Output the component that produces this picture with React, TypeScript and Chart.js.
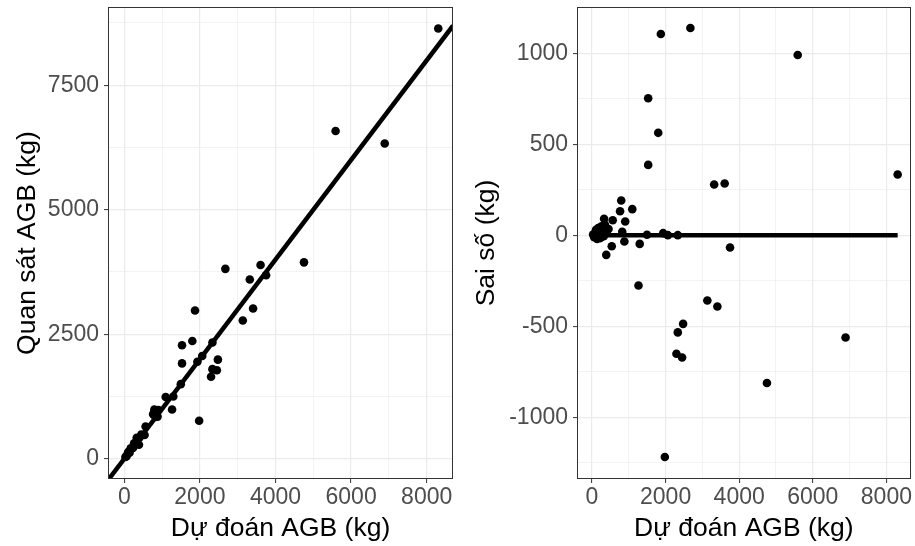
import React, { useEffect, useRef } from "react";
import { Chart, registerables } from "chart.js";

Chart.register(...registerables);

// ---- Data ----
const predicted = [
  1871, 2674, 5590, 1527, 1800, 1527, 8306, 3320, 3605, 795, 1095, 763, 903, 329, 564,
  822, 1495, 1934, 2061, 2332, 880, 1297, 3751, 537, 388, 1264, 3135, 3407, 2476, 2332,
  6890, 2295, 2449, 4754, 1980,
  30, 60, 90, 110, 140, 170, 200, 230, 260, 290, 320, 350, 400, 450,
];
const observed = [
  2977, 3813, 6580, 2280, 2363, 1914, 8640, 3599, 3890, 986, 1239, 895, 979, 420, 647,
  841, 1498, 1946, 2062, 2333, 846, 1250, 3684, 477, 281, 989, 2777, 3016, 1990, 1799,
  6329, 1645, 1778, 3943, 763,
  35, 50, 105, 140, 120, 210, 210, 215, 310, 315, 315, 410, 420, 485,
];
const residual = [
  1106, 1139, 990, 753, 563, 387, 334, 279, 285, 191, 144, 132, 76, 91, 83,
  19, 3, 12, 1, 1, -34, -47, -67, -60, -107, -275, -358, -391, -486, -533,
  -561, -650, -671, -811, -1217,
  5, -10, 15, 30, -20, 40, 10, -15, 50, 25, -5, 60, 20, 35,
];

// axis limits
const leftXLimits = [-431, 8696];
const leftYLimits = [-407, 9071];
const rightXLimits = [-407, 8660];
const rightYLimits = [-1338, 1254];

// tick values
const xMajorTicks = [0, 2000, 4000, 6000, 8000];
const xMinorTicks = [1000, 3000, 5000, 7000];
const leftYMajorTicks = [0, 2500, 5000, 7500];
const leftYMinorTicks = [1250, 3750, 6250, 8750];
const rightYMajorTicks = [-1000, -500, 0, 500, 1000];
const rightYMinorTicks = [-1250, -750, -250, 250, 750, 1250];

// residual zero-line span and 1:1 reference line
const zeroLineX = [30, 8306];
const zeroLineY = [0, 0];

const xTitle = "Dự đoán AGB (kg)";
const leftYTitle = "Quan sát AGB (kg)";
const rightYTitle = "Sai số (kg)";

const FONT = "'Liberation Sans', Arial, sans-serif";
const GRID = "#EBEBEB";

const borderPlugin = {
  id: "panelBorder",
  afterDatasetsDraw(chart: any) {
    const { ctx, chartArea } = chart;
    const l = Math.round(chartArea.left);
    const t = Math.round(chartArea.top);
    const r = Math.round(chartArea.right);
    const b = Math.round(chartArea.bottom);
    ctx.save();
    ctx.strokeStyle = "#333333";
    ctx.lineWidth = 1;
    ctx.strokeRect(l + 0.5, t + 0.5, r - l - 1, b - t - 1);
    ctx.restore();
  },
};

function makeScale(
  limits: number[],
  major: number[],
  minor: number[],
  title: string,
  axis: "x" | "y",
  size: number,
  titlePad: number
) {
  const majorSet = new Set(major);
  const all = [...major, ...minor].sort((a, b) => a - b);
  const isMajor = (ctx: any) => ctx.tick && majorSet.has(ctx.tick.value);
  return {
    type: "linear",
    position: axis === "x" ? "bottom" : "left",
    min: limits[0],
    max: limits[1],
    afterBuildTicks: (scale: any) => {
      scale.ticks = all.map((v) => ({ value: v }));
    },
    afterFit: (scale: any) => {
      if (axis === "x") {
        scale.height = size;
        scale.paddingLeft = 0;
        scale.paddingRight = 0;
      } else {
        scale.width = size;
        scale.paddingTop = 0;
        scale.paddingBottom = 0;
      }
    },
    border: { display: false },
    grid: {
      color: GRID,
      lineWidth: (ctx: any) => (isMajor(ctx) ? 1.2 : 0.6),
      tickColor: (ctx: any) => (isMajor(ctx) ? "#333333" : "rgba(0,0,0,0)"),
      tickLength: 4,
      tickWidth: 1,
      drawTicks: true,
    },
    ticks: {
      autoSkip: false,
      maxRotation: 0,
      minRotation: 0,
      padding: axis === "x" ? 1 : 5,
      color: "#4D4D4D",
      font: { family: FONT, size: 23 },
      callback: (v: any) => (majorSet.has(Number(v)) ? String(v) : ""),
    },
    title: {
      display: true,
      text: title,
      color: "#000000",
      font: { family: FONT, size: 26.5 },
      padding: axis === "x" ? { top: 0, bottom: titlePad } : { top: titlePad, bottom: 0 },
    },
  };
}

function Panel(props: {
  left: number;
  width: number;
  yAxisWidth: number;
  padRight: number;
  titlePadY: number;
  build: () => any;
}) {
  const ref = useRef<HTMLCanvasElement | null>(null);
  useEffect(() => {
    if (!ref.current) return;
    const chart = new Chart(ref.current, props.build());
    return () => chart.destroy();
  }, []);
  return (
    <canvas
      ref={ref}
      width={props.width}
      height={546}
      style={{ position: "absolute", left: props.left, top: 0, width: props.width, height: 546, display: "block" }}
    />
  );
}

export default function App() {
  const leftConfig = () => ({
    type: "scatter",
    data: {
      datasets: [
        {
          label: "1:1",
          data: leftXLimits.map((v) => ({ x: v, y: v })),
          showLine: true,
          borderColor: "#000000",
          borderWidth: 4.5,
          pointRadius: 0,
          fill: false,
        },
        {
          label: "obs",
          data: predicted.map((p, i) => ({ x: p, y: observed[i] })),
          backgroundColor: "#000000",
          borderWidth: 0,
          pointRadius: 4.3,
        },
      ],
    },
    options: {
      responsive: false,
      animation: false,
      devicePixelRatio: 1,
      layout: { padding: { left: 0, right: 7, top: 7, bottom: 0 } },
      plugins: { legend: { display: false }, tooltip: { enabled: false } },
      scales: {
        x: makeScale(leftXLimits, xMajorTicks, xMinorTicks, xTitle, "x", 67, 1),
        y: makeScale(leftYLimits, leftYMajorTicks, leftYMinorTicks, leftYTitle, "y", 108, 12),
      },
    },
    plugins: [borderPlugin],
  });

  const rightConfig = () => ({
    type: "scatter",
    data: {
      datasets: [
        {
          label: "zero",
          data: zeroLineX.map((v, i) => ({ x: v, y: zeroLineY[i] })),
          showLine: true,
          borderColor: "#000000",
          borderWidth: 4.5,
          pointRadius: 0,
          fill: false,
        },
        {
          label: "res",
          data: predicted.map((p, i) => ({ x: p, y: residual[i] })),
          backgroundColor: "#000000",
          borderWidth: 0,
          pointRadius: 4.3,
        },
      ],
    },
    options: {
      responsive: false,
      animation: false,
      devicePixelRatio: 1,
      layout: { padding: { left: 0, right: 3, top: 7, bottom: 0 } },
      plugins: { legend: { display: false }, tooltip: { enabled: false } },
      scales: {
        x: makeScale(rightXLimits, xMajorTicks, xMinorTicks, xTitle, "x", 67, 1),
        y: makeScale(rightYLimits, rightYMajorTicks, rightYMinorTicks, rightYTitle, "y", 117, 11),
      },
    },
    plugins: [borderPlugin],
  });

  return (
    <div style={{ position: "fixed", left: 0, top: 0, width: 915, height: 546, background: "#ffffff" }}>
      <Panel left={0} width={460} yAxisWidth={108} padRight={7} titlePadY={12} build={leftConfig} />
      <Panel left={460} width={455} yAxisWidth={117} padRight={3} titlePadY={11} build={rightConfig} />
    </div>
  );
}
